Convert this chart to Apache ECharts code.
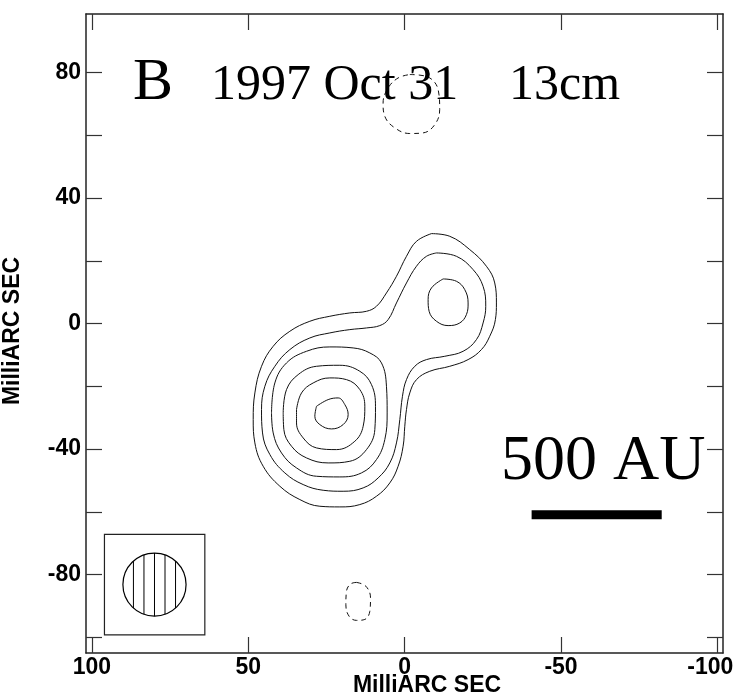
<!DOCTYPE html>
<html>
<head>
<meta charset="utf-8">
<style>
  html, body { margin: 0; padding: 0; background: #fff; }
  #chart { width: 736px; height: 698px; }
</style>
<script src="https://cdn.jsdelivr.net/npm/echarts@6/dist/echarts.min.js"></script>
</head>
<body>
<div id="chart"></div>
<script>
// contour levels, points in milliarcsec [RA offset, Dec offset]
const contour1 = [
  [-8.57, 28.69], [-14.43, 27.84], [-20.82, 23.59], [-26.15, 18.28], [-28.81, 12.96],
  [-29.34, 6.59], [-29.02, 1.28], [-27.21, -4.03], [-24.55, -8.28], [-20.29, -11.47],
  [-14.43, -13.6], [-8.03, -15.19], [-3.78, -17.85], [-1.64, -22.1], [-0.58, -27.41],
  [-0.04, -32.72], [0.49, -39.09], [2.09, -45.47], [4.75, -50.78], [9.01, -55.03],
  [14.34, -57.69], [20.73, -58.43], [27.12, -58.22], [33.52, -56.09], [39.91, -51.84],
  [45.24, -45.47], [47.9, -38.03], [48.43, -30.6], [47.9, -22.1], [45.77, -13.6],
  [42.04, -7.22], [36.71, -2.44], [30.32, 0.75], [23.93, 2.34], [17.53, 3.4],
  [12.21, 3.93], [9.01, 5.53], [5.82, 9.78], [2.62, 15.09], [-0.58, 21.46], [-3.78, 26.24]
];
const contour2 = [
  [-10.17, 22.53], [-16.56, 21.46], [-21.89, 17.21], [-25.08, 11.9], [-25.93, 5.53],
  [-25.08, 0.21], [-22.95, -5.1], [-18.69, -8.82], [-12.83, -10.41], [-6.97, -11.47],
  [-3.24, -13.6], [-0.58, -17.85], [0.7, -23.16], [1.55, -30.6], [2.62, -38.03],
  [4.75, -44.41], [8.48, -49.19], [13.27, -52.37], [19.67, -53.44], [26.06, -53.12],
  [32.45, -51.31], [38.31, -47.59], [43.1, -41.75], [45.45, -34.85], [45.77, -27.41],
  [44.7, -19.97], [41.51, -13.6], [36.71, -8.28], [30.32, -4.57], [23.93, -2.97],
  [17.53, -1.91], [12.21, -1.38], [7.95, -0.63], [5.28, 1.28], [2.62, 6.59],
  [-0.58, 12.96], [-3.77, 18.28], [-6.97, 21.46]
];
const contour3 = [
  [42.57, -28.47], [41.51, -18.91], [37.78, -12.53], [31.39, -8.82], [23.93, -7.43],
  [16.47, -7.75], [11.14, -9.35], [7.41, -12.53], [5.82, -19.97], [5.6, -28.47],
  [6.35, -36.97], [9.01, -43.34], [13.81, -47.59], [20.73, -48.87], [28.19, -48.66],
  [34.58, -46.0], [39.38, -41.22], [42.04, -34.85]
];
const contour3b = [
  [-12.3, 14.24], [-16.56, 13.5], [-19.22, 10.84], [-20.29, 6.59], [-19.75, 2.87],
  [-17.62, 0.21], [-13.9, -0.63], [-10.17, 0.75], [-7.82, 3.93], [-7.5, 7.65], [-8.57, 11.37]
];
const contour4 = [
  [38.84, -28.47], [37.78, -21.03], [34.05, -16.25], [28.19, -13.6], [20.73, -13.28],
  [14.34, -15.19], [10.61, -19.44], [9.33, -26.35], [9.54, -33.78], [12.21, -40.16],
  [17.53, -43.88], [24.46, -44.41], [31.39, -42.81], [36.18, -39.09], [38.63, -33.78]
];
const contour5 = [
  [34.58, -27.41], [32.98, -22.1], [29.25, -18.91], [23.93, -17.31], [18.6, -17.85],
  [14.34, -21.03], [12.74, -26.35], [13.27, -32.72], [15.94, -37.5], [21.8, -40.16],
  [28.19, -39.63], [32.45, -36.44], [34.58, -31.66]
];
const contour6 = [
  [28.19, -26.35], [24.46, -24.22], [21.26, -23.69], [19.13, -25.81], [18.07, -29.0],
  [19.67, -32.19], [23.39, -33.57], [27.12, -32.19], [28.72, -29.53]
];
// negative contours (dashed)
const negTop = [
  [-1.65, 79.4], [-6.98, 78.8], [-10.7, 74.6], [-11.2, 68.2], [-9.6, 63.4], [-5.9, 60.8],
  [-1.65, 60.6], [3.15, 62.4], [6.35, 66.1], [6.9, 70.3], [5.3, 75.1], [2.1, 78.3]
];
const negBottom = [
  [15.4, -82.5], [12.42, -83.7], [10.92, -87.4], [11.14, -91.7], [12.74, -94.3],
  [15.4, -94.6], [17.75, -93.3], [18.8, -89.6], [18.6, -85.3], [17.3, -83.0]
];

const xTicks = [-100, -50, 0, 50, 100];
const yTicks = [-100, -80, -60, -40, -20, 0, 20, 40, 60, 80];
const yLabels = [-80, -40, 0, 40, 80];

// beam: centre x, centre y, radius; beam box corners; 500 AU bar
const beam = [80, -83.2, 10.1];
const beamBox = [96, -67.2, 63.9, -99.2];
const scaleBar = [[-40.6, -60.9], [-82.2, -60.9]];

const xRange = [-101.8, 101.9];
const yRange = [-105, 98.7];

const labelFont = {
  fontFamily: '"Liberation Sans Narrow", "Liberation Sans", Arial',
  fontWeight: 'bold',
  fontSize: 23,
  color: '#000'
};
const frame = { show: true, onZero: false, lineStyle: { color: '#222', width: 1.5 } };

function tickCfg(values) {
  return { show: true, inside: true, length: 16, customValues: values, lineStyle: { color: '#333', width: 1.2 } };
}

function contour(data, dashed) {
  return {
    type: 'line',
    data: data.concat([data[0]]),
    symbol: 'none',
    smooth: 0.4,
    silent: true,
    lineStyle: { color: '#111', width: 1, type: dashed ? [5, 4] : 'solid' },
    z: 3
  };
}

const chart = echarts.init(document.getElementById('chart'));

chart.setOption({
  animation: false,
  backgroundColor: '#fff',
  grid: { left: 86, right: 13, top: 14, bottom: 45, containLabel: false, outerBoundsMode: 'none' },
  xAxis: [
    {
      type: 'value', min: xRange[0], max: xRange[1], inverse: true, position: 'bottom',
      axisLine: frame, axisTick: tickCfg(xTicks), splitLine: { show: false },
      axisLabel: Object.assign({
        customValues: xTicks,
        margin: 3,
        // last label is pulled in so it stays inside the page
        formatter: function (v) { return v === -100 ? '{edge|-100}' : String(v); },
        rich: { edge: Object.assign({ padding: [0, 14, 0, 0] }, labelFont) }
      }, labelFont)
    },
    {
      type: 'value', min: xRange[0], max: xRange[1], inverse: true, position: 'top',
      axisLine: frame, axisTick: tickCfg(xTicks), splitLine: { show: false },
      axisLabel: { show: false }
    }
  ],
  yAxis: [
    {
      type: 'value', min: yRange[0], max: yRange[1], position: 'left',
      axisLine: frame, axisTick: tickCfg(yTicks), splitLine: { show: false },
      axisLabel: Object.assign({ customValues: yLabels, margin: 5 }, labelFont)
    },
    {
      type: 'value', min: yRange[0], max: yRange[1], position: 'right',
      axisLine: frame, axisTick: tickCfg(yTicks), splitLine: { show: false },
      axisLabel: { show: false }
    }
  ],
  graphic: [
    { type: 'text', x: 133, y: 83, style: { text: 'B', font: '60px "Liberation Serif"', fill: '#000', textVerticalAlign: 'middle' }, z: 10 },
    { type: 'text', x: 211, y: 86, style: { text: '1997 Oct 31', font: '50px "Liberation Serif"', fill: '#000', textVerticalAlign: 'middle' }, z: 10 },
    { type: 'text', x: 509, y: 86, style: { text: '13cm', font: '50px "Liberation Serif"', fill: '#000', textVerticalAlign: 'middle' }, z: 10 },
    { type: 'text', x: 501, y: 462, style: { text: '500 AU', font: '64px "Liberation Serif"', fill: '#000', textVerticalAlign: 'middle' }, z: 10 },
    { type: 'text', x: 427, y: 686, style: { text: 'MilliARC SEC', font: 'bold 23px "Liberation Sans"', fill: '#000', textAlign: 'center', textVerticalAlign: 'middle' } },
    { type: 'text', x: 13, y: 331, rotation: Math.PI / 2, style: { text: 'MilliARC SEC', font: 'bold 23px "Liberation Sans"', fill: '#000', textAlign: 'center', textVerticalAlign: 'middle' } }
  ],
  series: [
    contour(contour1), contour(contour2), contour(contour3), contour(contour3b),
    contour(contour4), contour(contour5), contour(contour6),
    contour(negTop, true), contour(negBottom, true),
    {
      type: 'line', data: scaleBar, symbol: 'none', silent: true,
      lineStyle: { color: '#000', width: 9, cap: 'butt' }
    },
    {
      type: 'custom',
      silent: true,
      data: [beam],
      renderItem: function (params, api) {
        const c = api.coord([api.value(0), api.value(1)]);
        const r = api.size([api.value(2), api.value(2)])[0];
        const p0 = api.coord([beamBox[0], beamBox[1]]);
        const p1 = api.coord([beamBox[2], beamBox[3]]);
        const children = [
          {
            type: 'rect',
            shape: { x: Math.min(p0[0], p1[0]), y: Math.min(p0[1], p1[1]), width: Math.abs(p1[0] - p0[0]), height: Math.abs(p1[1] - p0[1]) },
            style: { fill: '#fff', stroke: '#222', lineWidth: 1.2 }
          },
          { type: 'circle', shape: { cx: c[0], cy: c[1], r: r }, style: { fill: 'none', stroke: '#000', lineWidth: 1.2 } }
        ];
        // vertical hatching inside the beam
        for (let k = -2; k <= 2; k++) {
          const dx = k * r / 3;
          const h = Math.sqrt(r * r - dx * dx);
          children.push({ type: 'line', shape: { x1: c[0] + dx, y1: c[1] - h, x2: c[0] + dx, y2: c[1] + h }, style: { stroke: '#000', lineWidth: 1 } });
        }
        return { type: 'group', children: children };
      }
    }
  ]
});
</script>
</body>
</html>
